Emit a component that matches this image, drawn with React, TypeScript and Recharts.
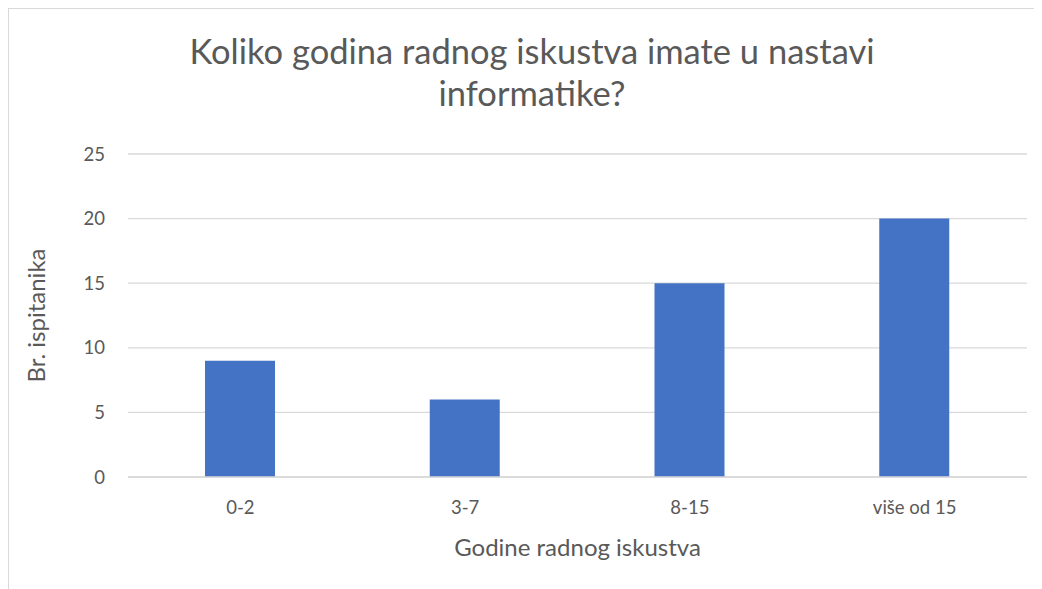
import { BarChart, Bar, XAxis, YAxis, CartesianGrid, Label } from 'recharts'

const categories = ['0-2', '3-7', '8-15', 'više od 15']
const respondents = [9, 6, 15, 20]
const yTicks = [0, 5, 10, 15, 20, 25]

const data = categories.map((c, i) => ({ name: c, value: respondents[i] }))

const font = 'Lato, "Open Sans", sans-serif'
const textColor = '#595959'

export default function App() {
    return (
        <div
            style={{
                position: 'relative',
                width: 1034,
                height: 581,
                borderLeft: '1.5px solid #d9d9d9',
                borderTop: '1.5px solid #d9d9d9',
                boxSizing: 'border-box',
                fontFamily: font,
                background: '#fff'
            }}
        >
            <div
                style={{
                    position: 'absolute',
                    left: 0,
                    width: 1046,
                    top: 21,
                    textAlign: 'center',
                    fontSize: 34.5,
                    lineHeight: '42px',
                    color: textColor
                }}
            >
                Koliko godina radnog iskustva imate u nastavi
                <br />
                informatike?
            </div>
            <div style={{ position: 'absolute', left: 0, top: 0 }}>
                <BarChart
                    width={1033}
                    height={580}
                    data={data}
                    margin={{ top: 145, right: 15, bottom: 82, left: 59 }}
                >
                    <CartesianGrid vertical={false} stroke="#d9d9d9" strokeWidth={1.3} />
                    <XAxis
                        dataKey="name"
                        height={30}
                        tickLine={false}
                        tickSize={0}
                        tickMargin={24}
                        axisLine={{ stroke: '#d9d9d9', strokeWidth: 1.3 }}
                        tick={{ fill: textColor, fontSize: 18.5, fontFamily: font }}
                    >
                        <Label
                            value="Godine radnog iskustva"
                            position="insideBottom"
                            offset={-49}
                            style={{ fill: textColor, fontSize: 24, fontFamily: font }}
                        />
                    </XAxis>
                    <YAxis
                        width={60}
                        domain={[0, 25]}
                        ticks={yTicks}
                        tickLine={false}
                        tickSize={0}
                        tickMargin={23}
                        axisLine={false}
                        tick={{ fill: textColor, fontSize: 18.5, fontFamily: font }}
                    >
                        <Label
                            value="Br. ispitanika"
                            angle={-90}
                            position="insideLeft"
                            offset={-32}
                            style={{ fill: textColor, fontSize: 24, fontFamily: font, textAnchor: 'middle' }}
                        />
                    </YAxis>
                    <Bar dataKey="value" fill="#4472c4" barSize={70} isAnimationActive={false} />
                </BarChart>
            </div>
        </div>
    )
}
